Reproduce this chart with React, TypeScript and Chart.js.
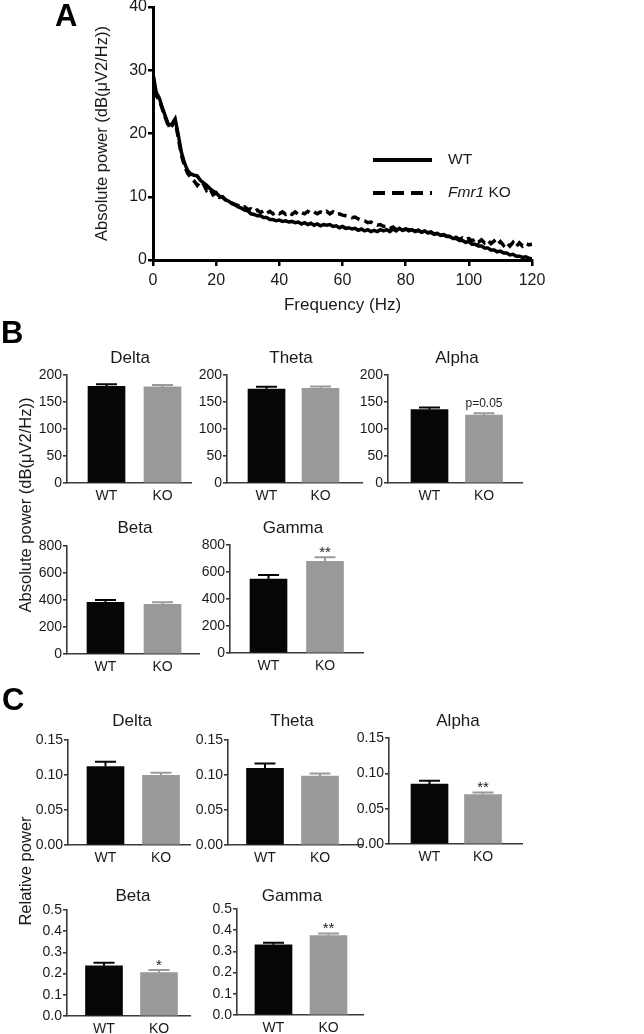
import React, { useEffect, useRef } from 'react';
import { Chart, registerables } from 'chart.js';

Chart.register(...registerables);

const FONT = '"Liberation Sans", Arial, Helvetica, sans-serif';
Chart.defaults.font.family = FONT;

// ---------------- Panel A data ----------------
const FREQ_HZ = [
  0, 1, 2, 3, 4, 5, 6, 7, 8, 9,
  10, 11, 12, 13, 14, 15, 16, 17, 18, 19,
  20, 21, 22, 23, 24, 25, 26, 27, 28, 29,
  30, 31, 32, 33, 34, 35, 36, 37, 38, 39,
  40, 41, 42, 43, 44, 45, 46, 47, 48, 49,
  50, 51, 52, 53, 54, 55, 56, 57, 58, 59,
  60, 61, 62, 63, 64, 65, 66, 67, 68, 69,
  70, 71, 72, 73, 74, 75, 76, 77, 78, 79,
  80, 81, 82, 83, 84, 85, 86, 87, 88, 89,
  90, 91, 92, 93, 94, 95, 96, 97, 98, 99,
  100, 101, 102, 103, 104, 105, 106, 107, 108, 109,
  110, 111, 112, 113, 114, 115, 116, 117, 118, 119,
  120,
];

const WT_SPECTRUM = [
  29.5, 26.5, 25.6, 24.0, 22.6, 21.3, 21.5, 22.3, 19.8, 17.0,
  15.3, 14.1, 13.6, 13.4, 13.3, 12.6, 12.2, 11.8, 11.3, 10.9,
  10.6, 10.1, 9.9, 9.5, 9.3, 8.9, 8.7, 8.4, 8.2, 7.9,
  7.8, 7.3, 7.2, 7.0, 7.0, 6.7, 6.7, 6.4, 6.4, 6.2,
  6.3, 6.1, 6.2, 6.0, 6.1, 5.9, 6.0, 5.7, 5.9, 5.6,
  5.8, 5.5, 5.7, 5.4, 5.6, 5.5, 5.6, 5.3, 5.4, 5.1,
  5.3, 5.0, 5.1, 4.9, 5.0, 4.7, 4.9, 4.6, 4.8, 4.5,
  4.7, 4.5, 4.8, 4.6, 4.8, 4.5, 4.9, 4.6, 5.0, 4.7,
  4.9, 4.6, 4.8, 4.5, 4.7, 4.4, 4.6, 4.3, 4.4, 4.1,
  4.2, 3.9, 4.0, 3.7, 3.7, 3.4, 3.4, 3.1, 3.1, 2.8,
  2.9, 2.5, 2.5, 2.2, 2.2, 1.9, 1.9, 1.6, 1.6, 1.3,
  1.4, 1.1, 1.1, 0.8, 0.9, 0.6, 0.6, 0.4, 0.5, 0.3,
  0.2,
];

const KO_SPECTRUM = [
  29.0, 26.0, 25.3, 23.8, 22.4, 21.0, 21.2, 22.0, 19.3, 16.6,
  14.8, 13.7, 13.0, 12.5, 11.8, 12.4, 12.0, 11.0, 11.3, 10.3,
  10.6, 9.9, 10.0, 9.5, 9.4, 9.0, 8.8, 8.6, 8.3, 8.4,
  8.0, 8.1, 7.7, 7.9, 7.5, 7.8, 7.4, 7.7, 7.3, 7.6,
  7.3, 7.6, 7.2, 7.5, 7.2, 7.6, 7.2, 7.5, 7.3, 7.7,
  7.4, 7.6, 7.3, 7.6, 7.4, 7.7, 7.3, 7.6, 7.2, 7.3,
  7.1, 7.0, 6.9, 6.7, 6.8, 6.5, 6.3, 6.2, 5.9, 6.0,
  5.7, 5.5, 5.6, 5.3, 5.4, 5.0, 5.2, 4.8, 5.0, 4.7,
  4.9, 4.8, 4.7, 4.6, 4.7, 4.4, 4.5, 4.3, 4.4, 4.1,
  4.2, 3.9, 4.0, 3.8, 3.7, 3.5, 3.6, 3.3, 3.5, 3.2,
  3.4, 3.0, 3.3, 2.8, 3.2, 2.7, 3.1, 2.6, 3.0, 2.4,
  2.9, 2.3, 2.8, 2.2, 2.8, 2.1, 2.7, 2.2, 2.6, 2.4,
  2.5,
];

// ---------------- Panels B & C data ----------------
const GROUPS = ['WT', 'KO'];
const BAND_NAMES = ['Delta', 'Theta', 'Alpha', 'Beta', 'Gamma'];

const ABS_MEAN_WT = [179, 174, 136, 383, 548];
const ABS_MEAN_KO = [178, 175.5, 126, 368, 679];
const ABS_SEM_WT = [3.8, 4.4, 3.8, 17, 30];
const ABS_SEM_KO = [3.3, 3.2, 3, 15, 30];
const ABS_MARKS = ['', '', 'p=0.05', '', '**'];
const ABS_Y_MAX = [200, 200, 200, 800, 800];
const ABS_Y_STEP = [50, 50, 50, 200, 200];

const REL_MEAN_WT = [0.112, 0.1096, 0.0847, 0.237, 0.331];
const REL_MEAN_KO = [0.0996, 0.0986, 0.070, 0.205, 0.375];
const REL_SEM_WT = [0.007, 0.0068, 0.0047, 0.014, 0.010];
const REL_SEM_KO = [0.0035, 0.0035, 0.003, 0.012, 0.010];
const REL_MARKS = ['', '', '**', '*', '**'];
const REL_Y_MAX = [0.15, 0.15, 0.15, 0.5, 0.5];
const REL_Y_STEP = [0.05, 0.05, 0.05, 0.1, 0.1];
const REL_DECIMALS = [2, 2, 2, 1, 1];

const BAR_COLORS = ['#060606', '#999999'];
const ERR_COLORS = ['#060606', '#9a9a9a'];
const AXIS_COLOR = '#3a3a3a';
const TEXT_COLOR = '#1a1a1a';

// layout of each small bar chart (page pixels): plot box, bar centres, title position
const ABS_LAYOUT = [
  { l: 67, r: 191, t: 375, b: 483, wt: 106.5, ko: 162.5, tx: 130, ty: 358 },
  { l: 227, r: 362, t: 375, b: 483, wt: 266.5, ko: 320.5, tx: 291, ty: 358 },
  { l: 388, r: 522, t: 375, b: 483, wt: 429.5, ko: 484, tx: 457, ty: 358 },
  { l: 67, r: 199, t: 546, b: 654, wt: 105.5, ko: 162.5, tx: 135, ty: 528 },
  { l: 230, r: 363, t: 545, b: 653, wt: 268.5, ko: 325, tx: 293, ty: 528 },
];
const REL_LAYOUT = [
  { l: 68, r: 190, t: 740, b: 845, wt: 105.5, ko: 161, tx: 132, ty: 721 },
  { l: 228, r: 362, t: 740, b: 845, wt: 265, ko: 320, tx: 292, ty: 721 },
  { l: 389, r: 522, t: 738, b: 844, wt: 429.5, ko: 483, tx: 458, ty: 721 },
  { l: 67, r: 190, t: 910, b: 1016, wt: 104, ko: 159, tx: 133, ty: 896 },
  { l: 237, r: 363, t: 909, b: 1015, wt: 273.5, ko: 328.5, tx: 292, ty: 896 },
];

// ---------------- plugins ----------------
const barExtrasPlugin = {
  id: 'barExtras',
  afterDatasetsDraw(chart: any, _args: any, o: any) {
    const { ctx, scales } = chart;
    const y = scales.y;
    const meta = chart.getDatasetMeta(0);
    ctx.save();
    meta.data.forEach((el: any, i: number) => {
      const base = y.getPixelForValue(o.values[i]);
      const top = y.getPixelForValue(o.values[i] + o.errors[i]);
      ctx.strokeStyle = ERR_COLORS[i];
      ctx.lineWidth = 2;
      ctx.beginPath();
      ctx.moveTo(el.x, base);
      ctx.lineTo(el.x, top);
      ctx.moveTo(el.x - 10.5, top);
      ctx.lineTo(el.x + 10.5, top);
      ctx.stroke();
      const mark = o.marks[i];
      if (mark) {
        const stars = mark.startsWith('*');
        ctx.fillStyle = TEXT_COLOR;
        ctx.font = stars ? `15px ${FONT}` : `12px ${FONT}`;
        ctx.textAlign = 'center';
        ctx.textBaseline = 'alphabetic';
        ctx.fillText(mark, el.x, top - (stars ? 0 : 6));
      }
    });
    ctx.fillStyle = TEXT_COLOR;
    ctx.font = `17px ${FONT}`;
    ctx.textAlign = 'center';
    ctx.textBaseline = 'middle';
    ctx.fillText(o.title, o.titleX, o.titleY);
    ctx.restore();
  },
};

const spectrumLegendPlugin = {
  id: 'spectrumLegend',
  afterDraw(chart: any, _args: any, o: any) {
    const { ctx } = chart;
    ctx.save();
    chart.data.datasets.forEach((ds: any, i: number) => {
      const yy = o.y0 + i * o.dy;
      ctx.strokeStyle = '#000';
      ctx.lineWidth = 4;
      ctx.setLineDash(ds.borderDash ? o.dash : []);
      ctx.beginPath();
      ctx.moveTo(o.x0, yy);
      ctx.lineTo(o.x1, yy);
      ctx.stroke();
      ctx.setLineDash([]);
      ctx.fillStyle = TEXT_COLOR;
      ctx.textBaseline = 'middle';
      ctx.textAlign = 'left';
      let x = o.textX;
      o.labels[i].forEach((part: [string, boolean]) => {
        ctx.font = `${part[1] ? 'italic ' : ''}15.5px ${FONT}`;
        ctx.fillText(part[0], x, yy);
        x += ctx.measureText(part[0]).width;
      });
    });
    ctx.restore();
  },
};

// ---------------- configs ----------------
function spectrumConfig(): any {
  return {
    type: 'line',
    data: {
      labels: FREQ_HZ,
      datasets: [
        { label: 'WT', data: WT_SPECTRUM, borderColor: '#000', borderWidth: 3.5, pointRadius: 0, tension: 0 },
        { label: 'Fmr1 KO', data: KO_SPECTRUM, borderColor: '#000', borderWidth: 3.5, borderDash: [9, 5], pointRadius: 0, tension: 0 },
      ],
    },
    options: {
      responsive: false,
      animation: false,
      layout: { padding: { left: 0, top: 7, right: 112, bottom: 0 } },
      plugins: {
        legend: { display: false },
        tooltip: { enabled: false },
        spectrumLegend: {
          x0: 373, x1: 432, textX: 448, y0: 160, dy: 33, dash: [12, 7],
          labels: [[['WT', false]], [['Fmr1', true], [' KO', false]]],
        },
      },
      scales: {
        x: {
          type: 'linear', min: 0, max: 120,
          afterFit: (s: any) => { s.height = 60; s.paddingLeft = 0; s.paddingRight = 0; },
          ticks: { stepSize: 20, font: { size: 16 }, color: TEXT_COLOR, padding: 5, maxRotation: 0 },
          grid: { drawOnChartArea: false, drawTicks: true, tickLength: 6, color: '#000', lineWidth: 2.5 },
          border: { display: true, color: '#000', width: 3 },
          title: { display: true, text: 'Frequency (Hz)', font: { size: 17 }, color: TEXT_COLOR, padding: { top: 0, bottom: 4 } },
        },
        y: {
          min: 0, max: 40,
          afterFit: (s: any) => { s.width = 153; s.paddingTop = 0; s.paddingBottom = 0; },
          ticks: { stepSize: 10, font: { size: 16 }, color: TEXT_COLOR, padding: 1 },
          grid: { drawOnChartArea: false, drawTicks: true, tickLength: 5, color: '#000', lineWidth: 2.5 },
          border: { display: true, color: '#000', width: 3 },
          title: { display: true, text: 'Absolute power (dB(\u03BCV2/Hz))', font: { size: 16.5 }, color: TEXT_COLOR, padding: { top: 93, bottom: 0 } },
        },
      },
    },
    plugins: [spectrumLegendPlugin],
  };
}

const BAR_PAD_TOP = 40;
const BAR_Y_W = 60;
const BAR_X_H = 28;
const BAR_PAD_R = 12;

function barConfig(spec: any, lay: any, canvasLeft: number, canvasTop: number): any {
  const span = lay.ko - lay.wt;
  const xMin = -(lay.wt - lay.l) / span;
  const xMax = 1 + (lay.r - lay.ko) / span;
  return {
    type: 'bar',
    data: {
      datasets: [{
        data: spec.values.map((v: number, i: number) => ({ x: i, y: v })),
        backgroundColor: BAR_COLORS,
        borderWidth: 0,
        barThickness: 37,
      }],
    },
    options: {
      responsive: false,
      animation: false,
      layout: { padding: { left: 0, top: BAR_PAD_TOP, right: BAR_PAD_R, bottom: 0 } },
      plugins: {
        legend: { display: false },
        tooltip: { enabled: false },
        title: { display: false },
        barExtras: {
          values: spec.values, errors: spec.errors, marks: spec.marks, title: spec.title,
          titleX: lay.tx - canvasLeft, titleY: lay.ty - canvasTop,
        },
      },
      scales: {
        x: {
          type: 'linear', min: xMin, max: xMax, offset: false,
          afterBuildTicks: (s: any) => { s.ticks = GROUPS.map((_g, i) => ({ value: i })); },
          afterFit: (s: any) => { s.height = BAR_X_H; s.paddingLeft = 0; s.paddingRight = 0; },
          ticks: { autoSkip: false, maxRotation: 0, callback: (v: number) => GROUPS[v], font: { size: 14 }, color: TEXT_COLOR, padding: 5 },
          grid: { display: false, drawTicks: false },
          border: { display: true, color: AXIS_COLOR, width: 1.6 },
        },
        y: {
          min: 0, max: spec.yMax,
          afterFit: (s: any) => { s.width = BAR_Y_W; s.paddingTop = 0; s.paddingBottom = 0; },
          ticks: { stepSize: spec.yStep, callback: (v: number) => Number(v).toFixed(spec.decimals), font: { size: 14 }, color: TEXT_COLOR, padding: 1 },
          grid: { drawOnChartArea: false, drawTicks: true, tickLength: 4, color: AXIS_COLOR, lineWidth: 1.6 },
          border: { display: true, color: AXIS_COLOR, width: 1.6 },
        },
      },
    },
    plugins: [barExtrasPlugin],
  };
}

// ---------------- components ----------------
function ChartCanvas({ left, top, width, height, build }: any) {
  const ref = useRef<HTMLCanvasElement>(null);
  useEffect(() => {
    const chart = new Chart(ref.current as HTMLCanvasElement, build());
    return () => chart.destroy();
  }, []);
  return (
    <canvas
      ref={ref}
      width={width}
      height={height}
      style={{ position: 'absolute', left, top, width, height }}
    />
  );
}

function BarPanel({ spec, lay }: any) {
  const left = lay.l - BAR_Y_W;
  const top = lay.t - BAR_PAD_TOP;
  const width = lay.r - lay.l + BAR_Y_W + BAR_PAD_R;
  const height = lay.b - lay.t + BAR_PAD_TOP + BAR_X_H;
  return <ChartCanvas left={left} top={top} width={width} height={height} build={() => barConfig(spec, lay, left, top)} />;
}

const panelLetter = (text: string, left: number, top: number): any => (
  <div style={{ position: 'absolute', left, top, font: `bold 31px ${FONT}`, lineHeight: '31px', color: '#000' }}>{text}</div>
);

const rotatedTitle = (text: string, cx: number, cy: number): any => (
  <div
    style={{
      position: 'absolute', left: cx, top: cy, whiteSpace: 'nowrap',
      font: `16.5px ${FONT}`, lineHeight: '19px', color: TEXT_COLOR,
      transform: 'translate(-50%, -50%) rotate(-90deg)',
    }}
  >
    {text}
  </div>
);

export default function App() {
  const absSpecs = BAND_NAMES.map((name, i) => ({
    title: name,
    values: [ABS_MEAN_WT[i], ABS_MEAN_KO[i]],
    errors: [ABS_SEM_WT[i], ABS_SEM_KO[i]],
    marks: ['', ABS_MARKS[i]],
    yMax: ABS_Y_MAX[i], yStep: ABS_Y_STEP[i], decimals: 0,
  }));
  const relSpecs = BAND_NAMES.map((name, i) => ({
    title: name,
    values: [REL_MEAN_WT[i], REL_MEAN_KO[i]],
    errors: [REL_SEM_WT[i], REL_SEM_KO[i]],
    marks: ['', REL_MARKS[i]],
    yMax: REL_Y_MAX[i], yStep: REL_Y_STEP[i], decimals: REL_DECIMALS[i],
  }));
  return (
    <div style={{ position: 'absolute', left: 0, top: 0, width: 644, height: 1034, background: '#fff', overflow: 'hidden' }}>
      <ChartCanvas left={0} top={0} width={644} height={320} build={spectrumConfig} />
      {absSpecs.map((s, i) => <BarPanel key={'a' + i} spec={s} lay={ABS_LAYOUT[i]} />)}
      {relSpecs.map((s, i) => <BarPanel key={'r' + i} spec={s} lay={REL_LAYOUT[i]} />)}
      {panelLetter('A', 55, 0)}
      {panelLetter('B', 1, 317)}
      {panelLetter('C', 2, 684)}
      {rotatedTitle('Absolute power (dB(\u03BCV2/Hz))', 25, 505)}
      {rotatedTitle('Relative power', 25, 871)}
    </div>
  );
}
